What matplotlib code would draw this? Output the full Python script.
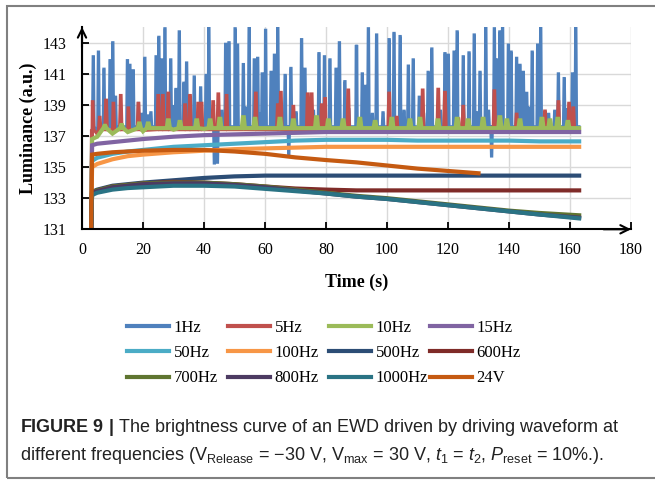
import numpy as np
import matplotlib
matplotlib.use("Agg")
import matplotlib.pyplot as plt
from matplotlib.lines import Line2D
from matplotlib.patches import Rectangle

plt.rcParams['mathtext.fontset'] = 'custom'
plt.rcParams['mathtext.rm'] = 'Liberation Sans'
plt.rcParams['mathtext.it'] = 'Liberation Sans:italic'
plt.rcParams['mathtext.bf'] = 'Liberation Sans:bold'

# ---------------- data ----------------
labels = ['1Hz', '5Hz', '10Hz', '15Hz', '50Hz', '100Hz', '500Hz', '600Hz',
          '700Hz', '800Hz', '1000Hz', '24V']
colors = ['#4F81BD', '#C0504D', '#9BBB59', '#8064A2', '#4BACC6', '#F79646',
          '#2C4D75', '#7F2B28', '#5F7530', '#4D3B62', '#2A7384', '#C55A11']

t_knots = [3.0, 3.3, 5, 10, 15, 20, 30, 40, 50, 60, 70, 80, 90, 100, 110,
           120, 130, 140, 150, 163]

hz1_base = [131, 137.2, 137.3, 137.45, 137.5, 137.55, 137.6, 137.6, 137.6, 137.6,
            137.6, 137.6, 137.6, 137.6, 137.6, 137.6, 137.6, 137.6, 137.6, 137.6]
hz5_base = [131, 137.0, 137.1, 137.25, 137.3, 137.35, 137.4, 137.4, 137.4, 137.4,
            137.4, 137.4, 137.4, 137.4, 137.4, 137.4, 137.4, 137.4, 137.4, 137.4]
hz10_base = [131, 136.8, 136.95, 137.15, 137.25, 137.3, 137.4, 137.45, 137.5, 137.5,
             137.5, 137.5, 137.5, 137.5, 137.5, 137.5, 137.5, 137.5, 137.5, 137.5]
hz15 = [131, 136.4, 136.5, 136.6, 136.7, 136.8, 136.95, 137.05, 137.1, 137.15,
        137.2, 137.25, 137.25, 137.25, 137.25, 137.25, 137.25, 137.25, 137.25, 137.25]
hz50 = [131, 135.4, 135.6, 135.85, 136.0, 136.1, 136.3, 136.4, 136.5, 136.6,
        136.7, 136.75, 136.75, 136.75, 136.7, 136.7, 136.7, 136.7, 136.65, 136.65]
hz100 = [131, 135.0, 135.2, 135.5, 135.7, 135.8, 135.95, 136.05, 136.15, 136.2,
         136.25, 136.3, 136.3, 136.3, 136.3, 136.3, 136.3, 136.3, 136.3, 136.3]
hz500 = [131, 133.4, 133.55, 133.8, 133.9, 134.0, 134.15, 134.3, 134.4, 134.45,
         134.45, 134.45, 134.45, 134.45, 134.45, 134.45, 134.45, 134.45, 134.45, 134.45]
hz600 = [131, 133.4, 133.5, 133.75, 133.85, 133.95, 134.05, 134.0, 133.9, 133.75,
         133.62, 133.55, 133.5, 133.5, 133.5, 133.5, 133.5, 133.5, 133.5, 133.5]
hz700 = [131, 133.4, 133.5, 133.75, 133.85, 133.95, 134.0, 134.0, 133.9, 133.75,
         133.55, 133.35, 133.15, 133.0, 132.8, 132.6, 132.4, 132.2, 132.05, 131.9]
hz800 = [131, 133.35, 133.45, 133.7, 133.8, 133.9, 133.95, 133.95, 133.85, 133.7,
         133.5, 133.3, 133.1, 132.95, 132.75, 132.55, 132.35, 132.15, 131.95, 131.75]
hz1000 = [131, 133.2, 133.35, 133.55, 133.65, 133.7, 133.8, 133.8, 133.75, 133.6,
          133.45, 133.3, 133.1, 132.95, 132.75, 132.55, 132.35, 132.15, 131.95, 131.7]

t_24v = [3.0, 3.3, 5, 10, 15, 20, 30, 40, 50, 60, 70, 80, 90, 100, 110, 120, 130]
v24 = [131, 135.8, 135.85, 135.95, 136.0, 136.05, 136.1, 136.1, 136.0, 135.85,
       135.62, 135.45, 135.3, 135.1, 134.9, 134.75, 134.6]

# spikes (time, peak value) of the 1 Hz curve (incl. a few dips and low bumps)
hz1_spike_t = [3.7, 5.4, 7.2, 9.2, 10.1, 11.0, 14.9, 15.7, 16.8, 18.5, 19.5, 20.6,
               21.8, 22.6, 24.3, 25.2, 26.1, 27.2, 29.1, 30.2, 30.8, 31.9, 33.4,
               34.3, 36.8, 38.9, 40.7, 41.6, 43.4, 44.4, 45.8, 47.1, 48.2, 50.2,
               51.0, 52.9, 53.8, 54.8, 56.5, 57.6, 58.3, 59.1, 60.2, 62.0, 63.1,
               64.2, 66.6, 67.8, 68.5, 70.2, 72.0, 73.1, 75.9, 77.7, 79.5, 81.3,
               83.3, 84.4, 86.2, 87.5, 90.0, 91.9, 92.8, 93.9, 95.2, 96.6, 98.7,
               100.7, 102.3, 104.3, 105.6, 107.0, 108.6, 110.6, 112.0, 113.5,
               114.7, 117.5, 119.0, 120.1, 122.0, 123.0, 125.0, 126.9, 128.6,
               129.6, 130.5, 132.4, 133.3, 134.3, 135.2, 136.0, 137.0, 137.9,
               139.8, 140.7, 142.5, 143.6, 144.7, 145.8, 146.5, 147.6, 149.4,
               150.4, 153.0, 155.0, 156.2, 158.1, 159.0, 160.8, 161.9]
hz1_spike_y = [142.1, 142.4, 141.3, 141.85, 143.0, 139.5, 141.85, 141.55, 141.2,
               139.1, 138.4, 142.0, 138.3, 138.5, 142.1, 143.35, 141.9, 143.9,
               141.9, 138.9, 140.0, 143.7, 140.4, 141.7, 140.8, 140.1, 140.9,
               144.0, 135.25, 135.3, 138.6, 142.9, 143.0, 143.9, 142.85, 141.6,
               138.8, 144.0, 141.9, 142.0, 138.4, 141.0, 143.8, 141.1, 142.2,
               144.0, 140.9, 135.85, 141.35, 138.5, 143.2, 141.3, 138.6, 142.3,
               142.1, 141.9, 141.3, 143.0, 140.5, 138.7, 142.85, 141.0, 140.2,
               143.9, 138.4, 143.5, 138.5, 143.2, 143.6, 143.4, 138.6, 141.5,
               141.9, 139.5, 138.4, 141.1, 142.6, 138.6, 142.3, 142.2, 142.4,
               143.7, 142.1, 142.35, 143.5, 138.5, 141.1, 144.0, 138.6, 135.7,
               143.9, 141.9, 143.7, 144.0, 142.85, 142.4, 142.0, 141.55, 141.1,
               139.75, 138.8, 142.4, 142.85, 144.0, 138.4, 138.6, 141.0, 140.7,
               138.7, 141.0, 144.0]
hz1_foot = 137.6

hz5_spike_t = [3.5, 5.8, 7.9, 10.3, 12.7, 15.2, 18.5, 25.0, 26.5, 28.3, 33.8,
               35.4, 38.1, 39.2, 43.0, 44.7, 47.4, 57.0, 64.2, 65.2, 69.3, 74.0,
               75.3, 78.6, 79.7, 87.3, 100.7, 103.2, 111.7, 116.8, 119.0, 123.4,
               125.0, 135.2, 142.5, 151.8, 156.2, 159.7, 161.1]
hz5_spike_y = [139.2, 138.2, 139.3, 139.1, 139.6, 138.8, 139.1, 139.6, 139.6,
               139.75, 139.0, 139.6, 139.1, 139.1, 139.2, 139.7, 139.6, 139.75,
               139.0, 139.8, 138.9, 139.7, 139.7, 139.0, 139.4, 139.95, 139.75,
               138.2, 139.95, 140.0, 139.8, 138.1, 138.9, 139.9, 138.4, 138.6,
               139.2, 139.1, 138.8]
hz5_foot = 137.4

hz10_spike_t = [7.5, 13.0, 18.8, 21.7, 28.3, 32.1, 37.6, 42.0, 45.2, 52.9, 56.7,
                64.9, 69.3, 76.9, 80.8, 85.6, 91.1, 96.1, 101.6, 107.5, 110.8,
                116.7, 123.0, 126.6, 131.5, 137.0, 139.3, 143.6, 150.8, 153.4,
                156.0, 159.3]
hz10_spike_y = [137.65, 137.7, 137.8, 137.8, 138.0, 137.9, 138.0, 138.0, 138.1,
                138.2, 138.1, 138.1, 138.0, 138.2, 138.0, 138.0, 138.1, 137.9,
                138.1, 138.0, 138.1, 138.0, 138.1, 138.0, 138.1, 138.2, 138.0,
                138.0, 138.1, 138.0, 138.1, 137.9]
hz10_foot = 137.5


def with_spikes(tb, yb, st, sy, foot, hw=0.3):
    t = list(tb)
    y = list(yb)
    for ti, yi in zip(st, sy):
        t += [ti - hw, ti - hw * 0.3, ti + hw * 0.3, ti + hw]
        y += [foot, yi, yi, foot]
    order = np.argsort(t, kind='stable')
    return np.asarray(t)[order], np.asarray(y)[order]


series = [
    with_spikes(t_knots, hz1_base, hz1_spike_t, hz1_spike_y, hz1_foot, hw=0.3),
    with_spikes(t_knots, hz5_base, hz5_spike_t, hz5_spike_y, hz5_foot, hw=0.4),
    with_spikes(t_knots, hz10_base, hz10_spike_t, hz10_spike_y, hz10_foot, hw=0.5),
    (t_knots, hz15), (t_knots, hz50), (t_knots, hz100), (t_knots, hz500),
    (t_knots, hz600), (t_knots, hz700), (t_knots, hz800), (t_knots, hz1000),
    (t_24v, v24),
]
widths = [2.0, 2.2, 3.0, 3.0, 3.0, 3.0, 3.0, 3.0, 3.0, 3.0, 3.0, 3.0]

# ---------------- figure ----------------
fig = plt.figure(figsize=(6.55, 4.8), dpi=100)
W, H = 655.0, 480.0
x0, x1, ytop, ybot = 82, 631, 27, 229.3
ax = fig.add_axes([x0 / W, 1 - ybot / H, (x1 - x0) / W, (ybot - ytop) / H])

for (t, y), c, lw, lab in zip(series, colors, widths, labels):
    ax.plot(t, y, color=c, lw=lw, solid_joinstyle='miter', label=lab, zorder=3)

ax.set_xlim(0, 180)
ax.set_ylim(131, 144)
ax.set_xticks(range(0, 181, 20))
ax.set_yticks(range(131, 144, 2))
ax.set_axisbelow(True)
ax.grid(True, color='#d9d9d9', lw=1.0)
for s in ['top', 'right']:
    ax.spines[s].set_visible(False)
for s in ['left', 'bottom']:
    ax.spines[s].set_linewidth(1.5)
    ax.spines[s].set_zorder(5)
ax.tick_params(direction='in', length=5, width=1.3, labelsize=11.5, pad=9)
for lbl in ax.get_xticklabels() + ax.get_yticklabels():
    lbl.set_family('Liberation Serif')
ax.tick_params(axis='y', pad=11)

# axis arrows
arr = dict(arrowstyle='->,head_length=0.6,head_width=0.3', lw=1.5, color='k',
           shrinkA=0, shrinkB=0)
ax.annotate('', xy=(0, 1.0), xytext=(0, 0.9), xycoords='axes fraction',
            arrowprops=arr, zorder=6)
ax.annotate('', xy=(1.0, 0), xytext=(0.95, 0), xycoords='axes fraction',
            arrowprops=arr, zorder=6)

ax.set_xlabel('Time (s)', family='Liberation Serif', fontsize=13,
              fontweight='bold', labelpad=11.5)
ax.set_ylabel('Luminance (a.u.)', family='Liberation Serif', fontsize=13,
              fontweight='bold')
ax.yaxis.set_label_coords((37 - x0) / (x1 - x0), 0.5)

# legend: 4 equal-width columns
handles = [Line2D([], [], color=c, lw=3) for c in colors]
col_x = [127, 228, 329, 430]
for j in range(4):
    idx = [j, j + 4, j + 8]
    fig.legend([handles[i] for i in idx], [labels[i] for i in idx],
               loc='upper left', bbox_to_anchor=(col_x[j] / W, 1 - 320 / H),
               frameon=False, borderpad=0, borderaxespad=0,
               handlelength=2.5, handletextpad=0.3, labelspacing=0.55,
               prop={'family': 'Liberation Serif', 'size': 12})

# caption
fig.text(20 / W, 1 - 428 / H,
         r'$\bf{FIGURE\ 9\ |}$ The brightness curve of an EWD driven by driving waveform at',
         fontsize=13, family='Liberation Sans', color='#222222', va='center')
fig.text(20 / W, 1 - 455 / H,
         r'different frequencies (V$_{\rm Release}$ = $-$30 V, V$_{\rm max}$ = 30 V, '
         r'$t_1$ = $t_2$, $P_{\rm reset}$ = 10%.).',
         fontsize=13, family='Liberation Sans', color='#222222', va='center')

# outer frame
fig.patches.append(Rectangle((7 / W, 1 - 478 / H), 1.0, (478 - 6) / H,
                             transform=fig.transFigure, fill=False,
                             edgecolor='#808080', lw=1.5))

fig.savefig('out.png', dpi=100)
